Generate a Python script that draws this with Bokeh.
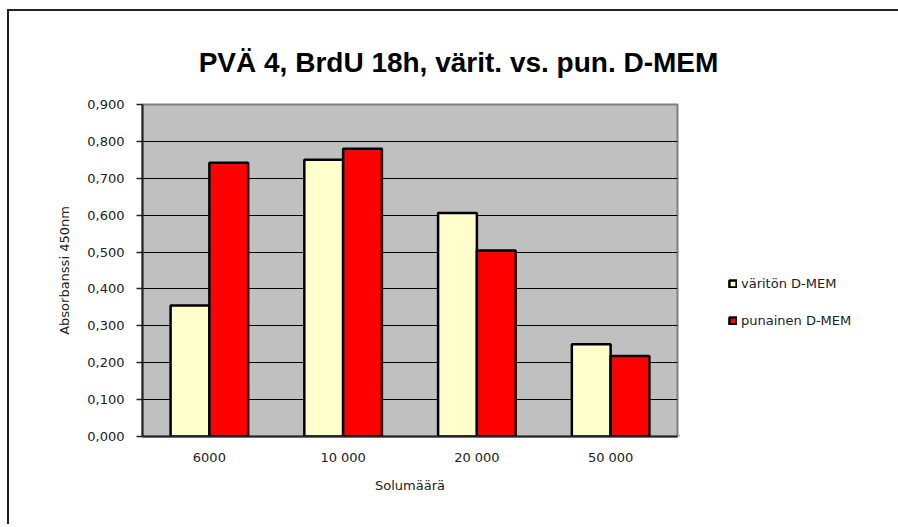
from bokeh.plotting import figure
from bokeh.layouts import column, row
from bokeh.models import (ColumnDataSource, FactorRange, CustomJSTickFormatter, Legend, LegendItem,
                          Label, FixedTicker)
from bokeh.transform import dodge
from bokeh.embed import file_html
from bokeh.resources import INLINE

categories = ["6000", "10 000", "20 000", "50 000"]
varitön = [0.355, 0.750, 0.606, 0.250]
punainen = [0.742, 0.780, 0.504, 0.218]
series_names = ["väritön D-MEM", "punainen D-MEM"]
series_colors = ["#ffffcc", "#ff0000"]
y_ticks = [0.0, 0.1, 0.2, 0.3, 0.4, 0.5, 0.6, 0.7, 0.8, 0.9]
title_text = "PVÄ 4, BrdU 18h, värit. vs. pun. D-MEM"
x_label = "Solumäärä"
y_label = "Absorbanssi 450nm"

src = ColumnDataSource(dict(cat=categories, a=varitön, b=punainen))

FONT = "DejaVu Sans"
TFONT = "Liberation Sans"

# ---- title strip ----
top = figure(width=889, height=80, x_range=(0, 889), y_range=(0, 80), title=None,
             output_backend="svg", toolbar_location=None, min_border=0,
             x_axis_location=None, y_axis_location=None)
top.outline_line_color = None
top.grid.grid_line_color = None
top.add_layout(Label(x=449, y=29, text=title_text, text_align="center", text_baseline="alphabetic",
                     text_font=TFONT, text_font_size="28px", text_font_style="bold",
                     text_color="black"))

# ---- main chart ----
p = figure(x_range=FactorRange(*categories), y_range=(0, 0.9), title=None,
           width=670, height=433, output_backend="svg", toolbar_location=None,
           min_border_left=133, min_border_right=2, min_border_top=13, min_border_bottom=88)
p.background_fill_color = "#c0c0c0"
p.border_fill_color = "white"
p.outline_line_color = "#808080"
p.outline_line_width = 2
p.x_range.range_padding = 0

bw = 0.29
p.vbar(x=dodge("cat", -bw / 2, range=p.x_range), top="a", width=bw, source=src,
       fill_color=series_colors[0], line_color="black", line_width=2.5)
p.vbar(x=dodge("cat", bw / 2, range=p.x_range), top="b", width=bw, source=src,
       fill_color=series_colors[1], line_color="black", line_width=2.5)

p.xgrid.grid_line_color = None
p.ygrid.grid_line_color = "black"
p.ygrid.grid_line_width = 1
p.yaxis.ticker = FixedTicker(ticks=y_ticks)

p.yaxis.formatter = CustomJSTickFormatter(code="return tick.toFixed(3).replace('.', ',');")
for ax in (p.xaxis, p.yaxis):
    ax.major_label_text_font = FONT
    ax.major_label_text_font_size = "13px"
    ax.major_label_text_color = "#222222"
    ax.axis_label_text_font = FONT
    ax.axis_label_text_font_size = "13px"
    ax.axis_label_text_font_style = "normal"
    ax.axis_label_text_color = "#222222"
    ax.minor_tick_line_color = None
    ax.axis_line_color = "#222222"
    ax.axis_line_width = 2

p.yaxis.axis_label = y_label
p.yaxis.major_tick_out = 6
p.yaxis.major_tick_in = 0
p.yaxis.major_tick_line_color = "#222222"
p.yaxis.major_tick_line_width = 1.5
p.yaxis.major_label_standoff = 12
p.yaxis.axis_label_standoff = 12

p.xaxis.axis_label = x_label
p.xaxis.major_tick_line_color = None
p.xaxis.major_label_standoff = 7
p.xaxis.axis_label_standoff = 10

# ---- legend panel (proxy glyphs, kept out of view) ----
lg = figure(width=219, height=433, x_range=(0, 1), y_range=(0, 1), title=None,
            output_backend="svg", toolbar_location=None, min_border=0,
            x_axis_location=None, y_axis_location=None)
lg.outline_line_color = None
lg.grid.grid_line_color = None
proxy = ColumnDataSource(dict(x=[-5], top=[0]))
l1 = lg.vbar(x="x", top="top", width=0.1, source=proxy,
             fill_color=series_colors[0], line_color="black", line_width=2.5)
l2 = lg.vbar(x="x", top="top", width=0.1, source=proxy,
             fill_color=series_colors[1], line_color="black", line_width=2.5)
legend = Legend(items=[LegendItem(label=series_names[0], renderers=[l1]),
                       LegendItem(label=series_names[1], renderers=[l2])],
                location=(49, 108), orientation="vertical")
legend.glyph_width = 9
legend.glyph_height = 9
legend.label_text_font = FONT
legend.label_text_font_size = "13px"
legend.label_text_color = "#222222"
legend.label_standoff = 4
legend.spacing = 22
legend.padding = 0
legend.margin = 0
legend.border_line_color = None
legend.background_fill_alpha = 0
lg.add_layout(legend, "center")

layout = column(top, row(p, lg, spacing=0), spacing=0)
layout.margin = (9, 0, 0, 7)
layout.styles = {"border-top": "2px solid #222222", "border-left": "2px solid #222222"}

open("out.html", "w").write(file_html(layout, INLINE))
